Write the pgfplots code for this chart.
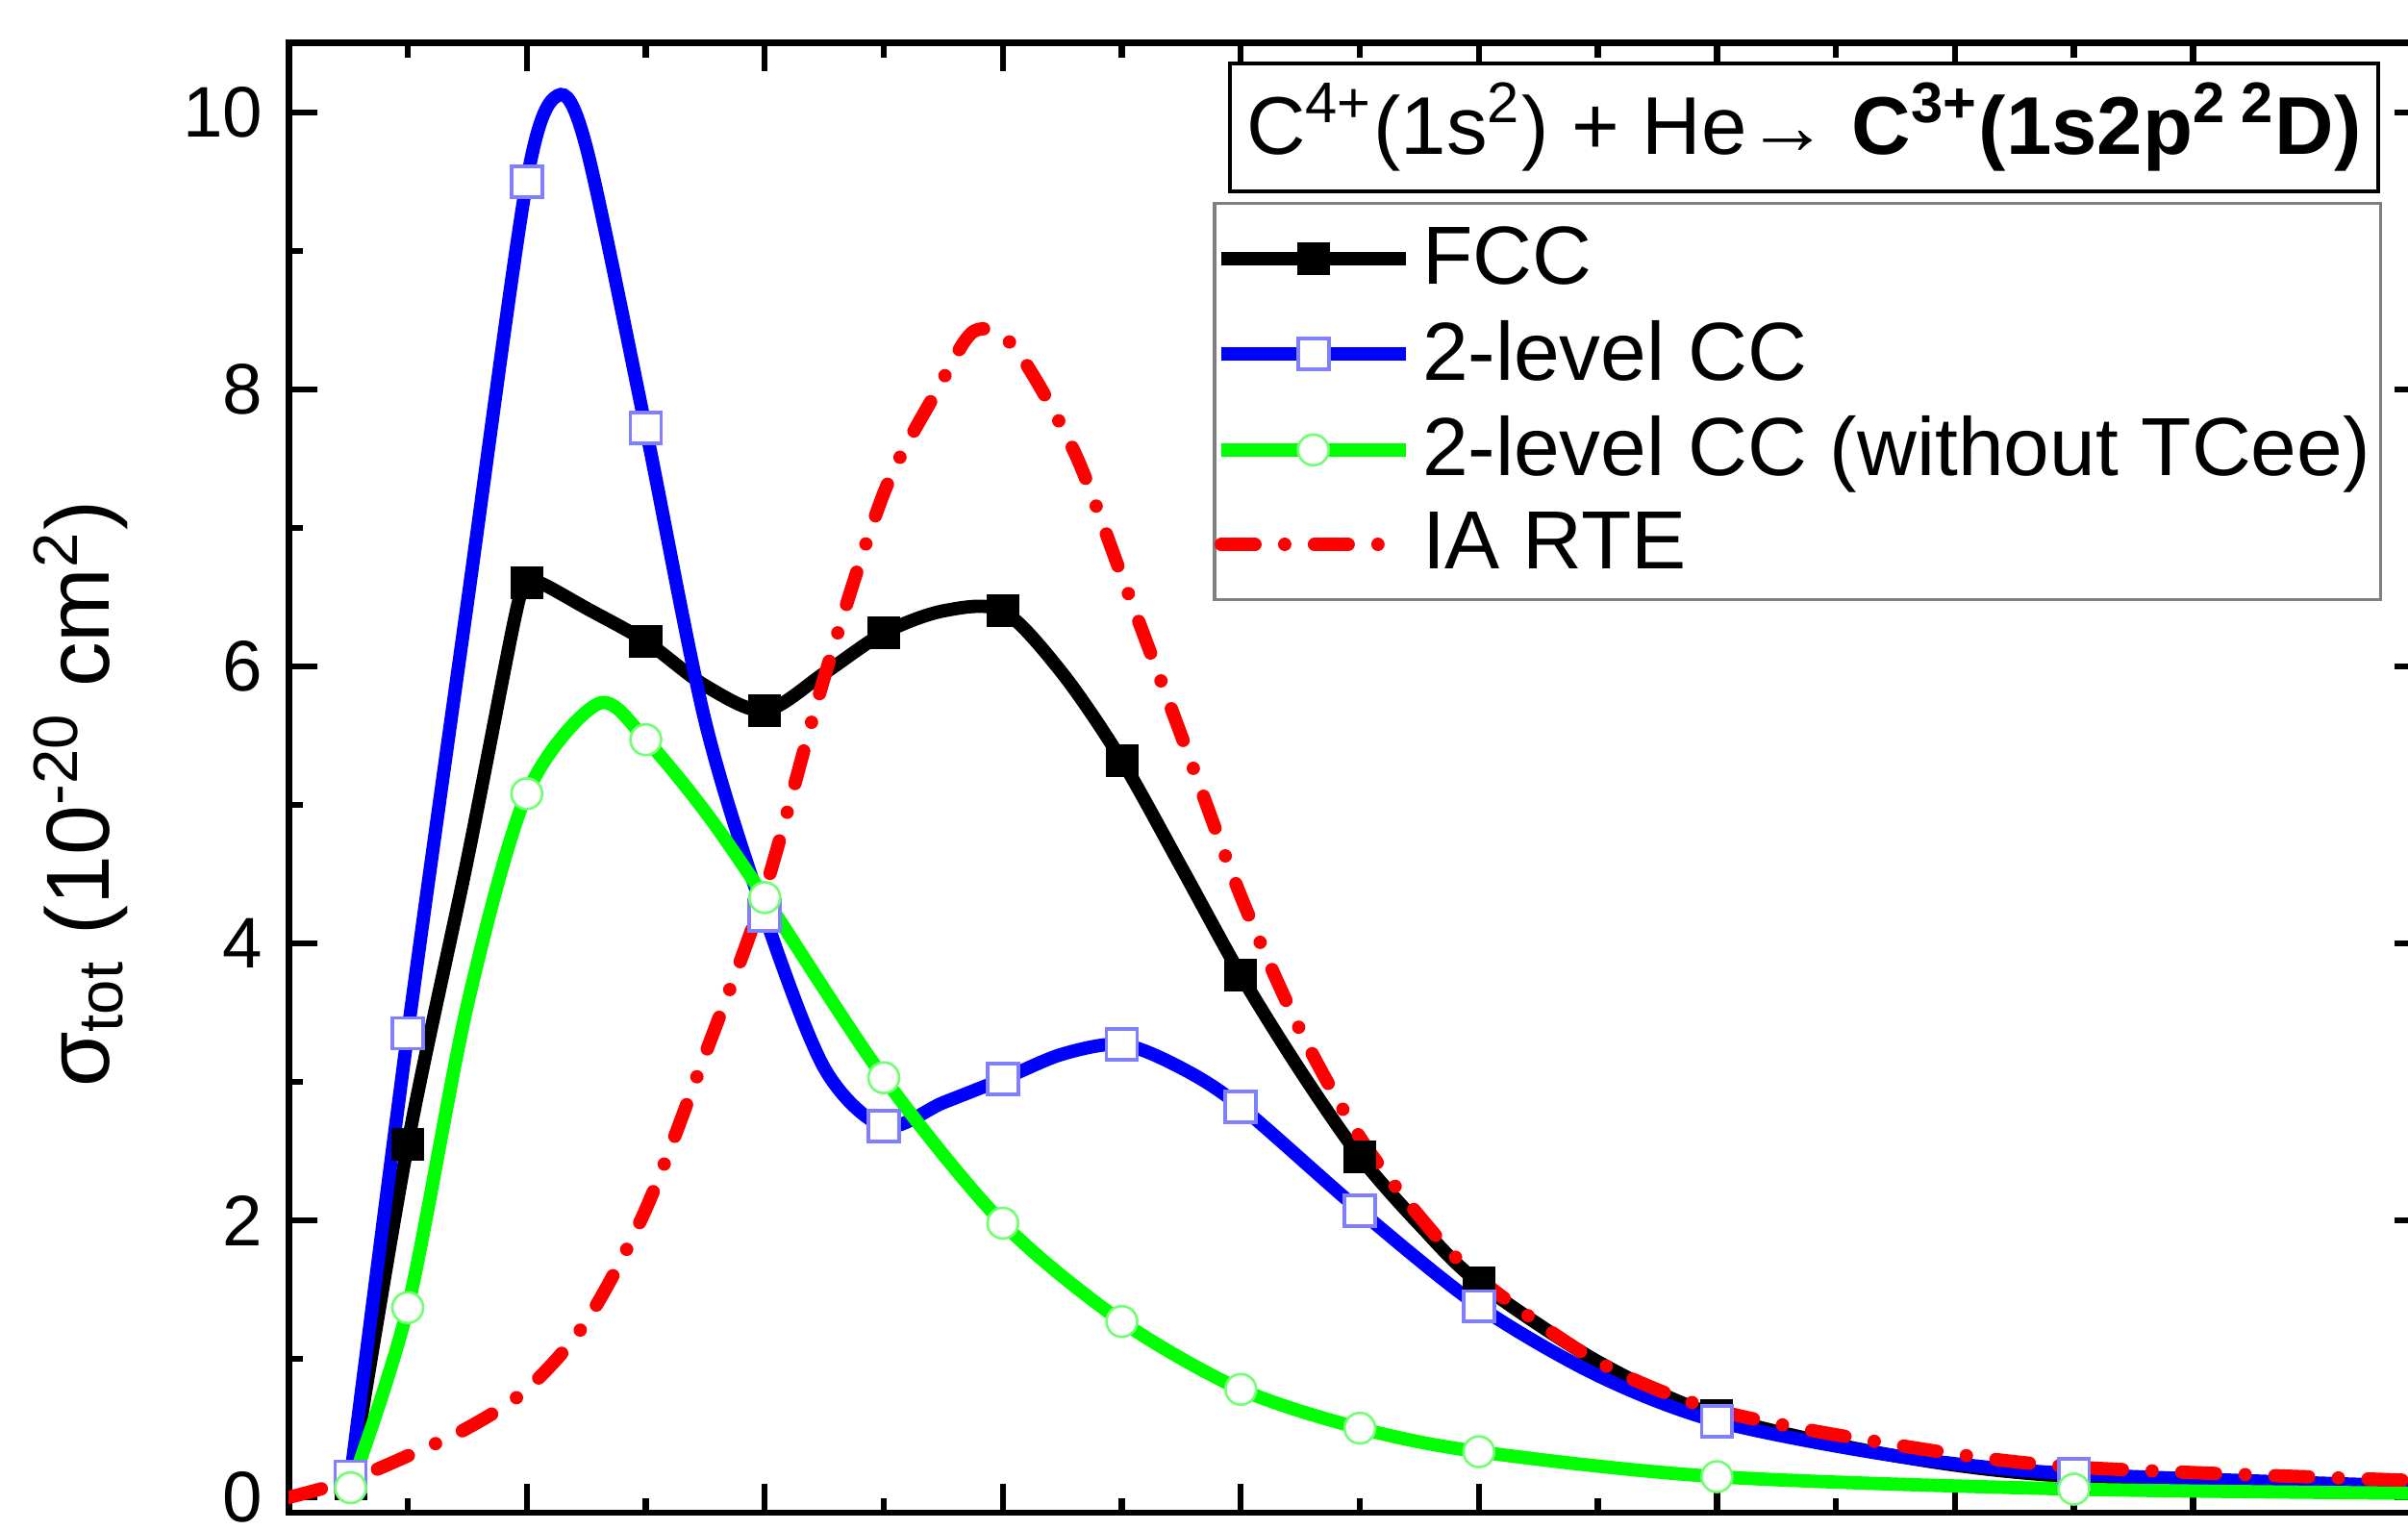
\documentclass[border=0pt]{standalone}
\usepackage{pgfplots}
\pgfplotsset{compat=1.18}
\usepackage{fontspec}
\setmainfont{Liberation Sans}
\begin{document}
\begin{tikzpicture}
\begin{axis}[
  at={(56.4pt,3.3pt)}, anchor=south west,
  scale only axis, width=417pt, height=287.1pt,
  xmin=0, xmax=8.968, ymin=-0.11, ymax=10.5,
  xtick={0,...,8}, minor x tick num=1, xticklabels={},
  ytick={0,2,...,10}, minor y tick num=1,
  tick align=inside,
  major tick length=5.6pt, minor tick length=2.8pt,
  tick style={black, line width=1.2pt},
  axis line style={line width=1.3pt},
  /pgf/number format/assume math mode=true,
  tick label style={font=\fontsize{14}{16}\selectfont},
  yticklabel style={xshift=-1.5pt, inner ysep=1pt},
  ylabel={σ\textsubscript{tot} (10\textsuperscript{-20} cm\textsuperscript{2})},
  ylabel style={at={(axis description cs:-0.084,0.489)}, anchor=base, font=\fontsize{17.5}{20}\selectfont},
  legend style={at={(rel axis cs:0.433,0.892)}, anchor=north west, draw=gray, line width=0.6pt,
    font=\fontsize{16.1}{18}\selectfont, inner xsep=0pt, inner ysep=2.5pt, row sep=1.6pt},
  legend cell align=left,
  legend image code/.code={\draw[#1,mark indices={2}] plot coordinates {(0pt,0pt) (18pt,0pt) (36pt,0pt)};},
]
% FCC
\addplot[black, line width=2.6pt, smooth, mark=square*, mark size=3pt,
  mark indices={1,2,5,8,10,12,14,16,18,20,22,24,26}, mark options={solid, fill=black, line width=0.4pt}]
coordinates {
(0.26,0.10) (0.5,2.55) (0.75,4.6) (0.95,6.35) (1,6.6) (1.06,6.6) (1.25,6.42)
(1.5,6.18) (1.75,5.86) (2,5.68) (2.25,5.95) (2.5,6.24) (2.75,6.4) (3,6.4)
(3.25,5.95) (3.5,5.32) (3.75,4.55) (4,3.77) (4.25,3.08) (4.5,2.46) (4.75,1.97)
(5,1.55) (5.5,0.98) (6,0.59) (6.75,0.3) (7.5,0.15) (8.97,0.08)
};
\addlegendentry{FCC}
% 2-level CC
\addplot[blue, line width=2.6pt, smooth, mark=square*, mark size=3pt,
  mark indices={1,2,4,7,9,11,13,15,17,18,19,21,23}, mark options={solid, fill=white, draw=blue!50, line width=0.7pt}]
coordinates {
(0.26,0.15) (0.5,3.35) (0.75,6.45) (1,9.5) (1.13,10.12) (1.25,9.75) (1.5,7.72)
(1.75,5.6) (2,4.2) (2.25,3.1) (2.5,2.68) (2.75,2.85) (3,3.02) (3.25,3.2)
(3.5,3.27) (3.75,3.1) (4,2.82) (4.5,2.07) (5,1.38) (5.5,0.88) (6,0.55)
(6.75,0.3) (7.5,0.17) (8.97,0.08)
};
\addlegendentry{2-level CC}
% 2-level CC without TCee
\addplot[green, line width=2.6pt, smooth, mark=*, mark size=3pt,
  mark indices={1,2,4,6,8,9,10,11,12,13,14,15,16}, mark options={solid, fill=white, draw=green!55, line width=0.5pt}]
coordinates {
(0.26,0.07) (0.5,1.37) (0.75,3.55) (1,5.08) (1.3,5.73) (1.5,5.47) (1.75,4.95)
(2,4.33) (2.5,3.03) (3,1.98) (3.5,1.27) (4,0.78) (4.5,0.5) (5,0.33)
(6,0.15) (7.5,0.06) (8.97,0.03)
};
\addlegendentry{2-level CC (without TCee)}
% IA RTE
\addplot[red, line width=2.6pt, smooth, line cap=round, dash pattern=on 6.6pt off 5.8pt on 0.01pt off 5.8pt]
coordinates {
(0,0) (0.25,0.12) (0.5,0.3) (0.75,0.5) (1,0.78) (1.25,1.27) (1.5,2.08) (1.75,3.2)
(2,4.38) (2.25,5.92) (2.5,7.25) (2.72,7.98) (2.88,8.42) (3.05,8.3) (3.3,7.55)
(3.5,6.65) (3.75,5.5) (4,4.34) (4.25,3.37) (4.5,2.6) (4.75,2.03) (5,1.58)
(5.5,0.98) (6,0.63) (6.75,0.38) (7.5,0.22) (8.97,0.12)
};
\addlegendentry{IA RTE}
\node[draw=black, line width=0.7pt, anchor=north west, minimum width=224.4pt, minimum height=25pt,
  inner sep=1pt, font=\fontsize{16}{18}\selectfont, fill=white]
  at (rel axis cs:0.44,0.9875)
  {C\textsuperscript{4+}(1s\textsuperscript{2}) + He→ \textbf{C\textsuperscript{3+}(1s2p\textsuperscript{2 2}D)}};
\end{axis}
\pgfresetboundingbox
\useasboundingbox (0,0) rectangle (470.4pt,298.8pt);
\end{tikzpicture}
\end{document}
